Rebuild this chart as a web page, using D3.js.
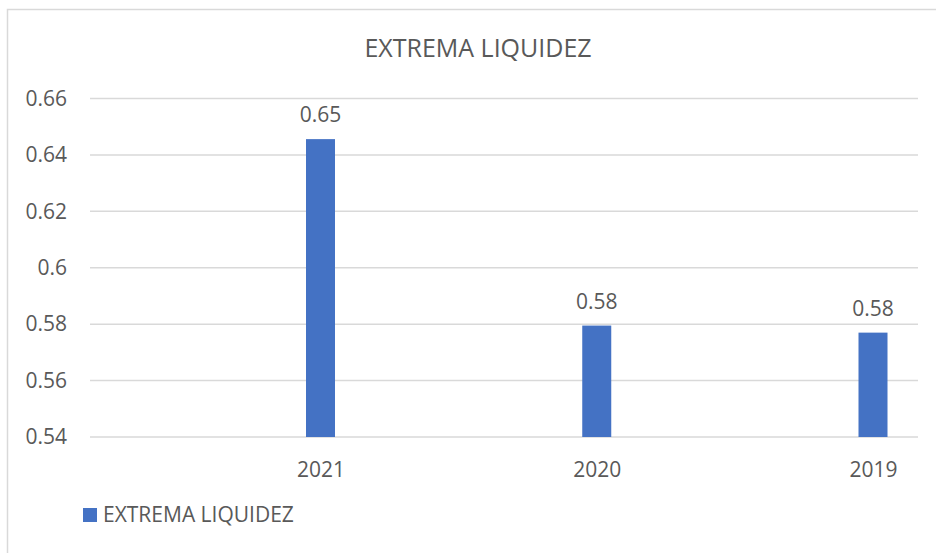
<!DOCTYPE html>
<html lang="en">
<head>
<meta charset="utf-8">
<title>Extrema Liquidez</title>
<script src="https://cdn.jsdelivr.net/npm/d3@7"></script>
<style>
  body { margin: 0; background: #fff; }
  text { font-family: "Open Sans", "Noto Sans", sans-serif; fill: #595959; }
</style>
</head>
<body>
<div id="chart"></div>
<script>
// data
var years = ['2021', '2020', '2019'];
var values = [0.6456, 0.5795, 0.5770];
var labels = ['0.65', '0.58', '0.58'];
var yTicks = [0.54, 0.56, 0.58, 0.6, 0.62, 0.64, 0.66];
var seriesName = 'EXTREMA LIQUIDEZ';

var W = 936, H = 553;
var plot = {left: 90, right: 918, top: 98.5, bottom: 437};

var svg = d3.select('#chart').append('svg')
  .attr('width', W)
  .attr('height', H);

// chart border
svg.append('rect')
  .attr('x', 7.5).attr('y', 9.5)
  .attr('width', W + 10).attr('height', H + 10)
  .attr('fill', 'none')
  .attr('stroke', '#d9d9d9')
  .attr('stroke-width', 1.5);

var y = d3.scaleLinear()
  .domain([0.54, 0.66])
  .range([plot.bottom, plot.top]);

var x = d3.scalePoint()
  .domain(years)
  .range([320.5, 873]);

var barW = 29;

// gridlines
svg.append('g').selectAll('line')
  .data(yTicks)
  .enter()
  .append('line')
  .attr('x1', plot.left).attr('x2', plot.right)
  .attr('y1', function(d) { return y(d); })
  .attr('y2', function(d) { return y(d); })
  .attr('stroke', '#d9d9d9')
  .attr('stroke-width', 1.5);

// y axis labels
var yAxis = svg.append('g')
  .attr('transform', 'translate(67,0)')
  .call(d3.axisLeft(y).tickValues(yTicks).tickSize(0).tickPadding(0)
    .tickFormat(function(d) { return String(+d.toFixed(2)); }));
yAxis.select('.domain').remove();
yAxis.selectAll('text')
  .style('font-size', '21px')
  .attr('fill', '#595959');

// bars
svg.append('g').selectAll('rect')
  .data(values)
  .enter()
  .append('rect')
  .attr('x', function(d, i) { return x(years[i]) - barW / 2; })
  .attr('y', function(d) { return y(d); })
  .attr('width', barW)
  .attr('height', function(d) { return y(0.54) - y(d); })
  .attr('fill', '#4472c4');

// data labels
svg.append('g').selectAll('text')
  .data(values)
  .enter()
  .append('text')
  .attr('x', function(d, i) { return x(years[i]); })
  .attr('y', function(d) { return y(d) - 17; })
  .attr('text-anchor', 'middle')
  .style('font-size', '21px')
  .text(function(d, i) { return labels[i]; });

// x axis labels
var xAxis = svg.append('g')
  .attr('transform', 'translate(0,' + plot.bottom + ')')
  .call(d3.axisBottom(x).tickSize(0).tickPadding(25));
xAxis.select('.domain').remove();
xAxis.selectAll('text')
  .style('font-size', '21px')
  .attr('fill', '#595959');

// title
svg.append('text')
  .attr('x', 478)
  .attr('y', 57)
  .attr('text-anchor', 'middle')
  .style('font-size', '25px')
  .text(seriesName);

// legend
svg.append('rect')
  .attr('x', 83).attr('y', 508)
  .attr('width', 14).attr('height', 14)
  .attr('fill', '#4472c4');
svg.append('text')
  .attr('x', 103)
  .attr('y', 522)
  .style('font-size', '21px')
  .text(seriesName);
</script>
</body>
</html>
